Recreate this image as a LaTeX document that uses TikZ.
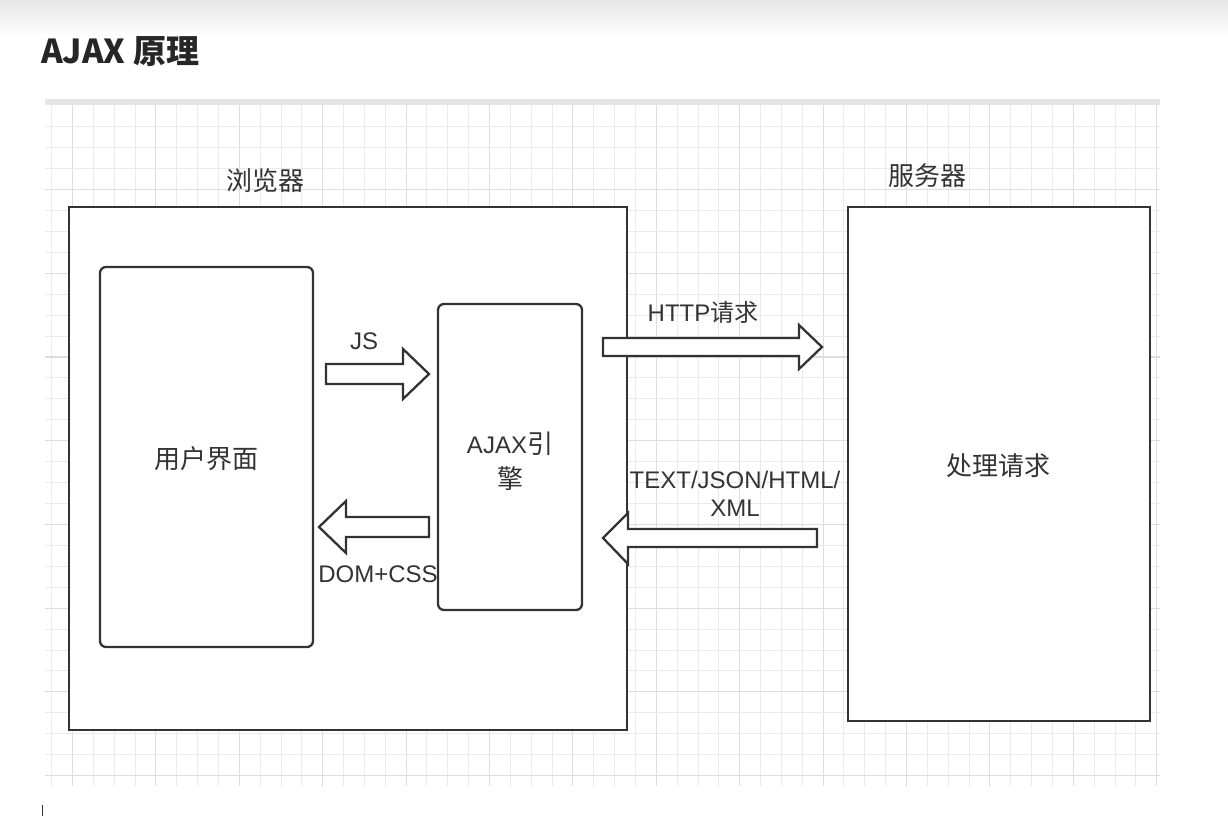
\documentclass[tikz,border=0pt]{standalone}
\usepackage{fontspec}
\setmainfont{Liberation Sans}
\newfontfamily\cjk{Noto Sans CJK SC}
\definecolor{ink}{HTML}{333333}
\definecolor{gridc}{HTML}{EAEAEA}
\definecolor{gridm}{HTML}{DDDDDD}
\tikzset{
  gridline/.style={draw=gridc, line width=0.9pt},
  gridmajor/.style={draw=gridm, line width=1.1pt},
  outerbox/.style={draw=ink, line width=2.3pt, fill=white, rectangle, inner sep=0pt},
  innerbox/.style={draw=ink, line width=2.3pt, fill=white, rectangle, rounded corners=6pt, inner sep=0pt},
  blockarrow/.style={draw=ink, line width=2.3pt, fill=white, line join=miter},
  lbl/.style={text=ink, font=\fontsize{24}{28}\selectfont, inner sep=0pt},
  cjklbl/.style={text=ink, font=\cjk\fontsize{26}{30}\selectfont, inner sep=0pt},
}
\begin{document}
\begin{tikzpicture}[x=1pt, y=-1pt]
\useasboundingbox (0,0) rectangle (1228,816);
% top header band
\shade[top color=black!10, bottom color=white] (0,0) rectangle (1228,36);
% title
\node[anchor=west, text=black!85, font=\cjk\bfseries\fontsize{33}{38}\selectfont, inner sep=0pt] (title) at (41,52) {AJAX 原理};
% grid
\fill[black!10] (45,99) rectangle (1160,105);
\foreach \i in {0,...,53} {
  \pgfmathtruncatemacro{\m}{mod(\i,4)}
  \ifnum\m=1
    \draw[gridmajor] ({51.6+20.85*\i},105) -- ({51.6+20.85*\i},786);
  \else
    \draw[gridline] ({51.6+20.85*\i},105) -- ({51.6+20.85*\i},786);
  \fi
}
\foreach \j in {1,...,32} {
  \pgfmathtruncatemacro{\m}{mod(\j,4)}
  \ifnum\m=0
    \draw[gridmajor] (45,{105.8+20.93*\j}) -- (1160,{105.8+20.93*\j});
  \else
    \draw[gridline] (45,{105.8+20.93*\j}) -- (1160,{105.8+20.93*\j});
  \fi
}
% browser
\node[outerbox, minimum width=558pt, minimum height=523pt] (browser) at (348,468.5) {};
\node[cjklbl] (browserlbl) at (265,181) {浏览器};
% server
\node[outerbox, minimum width=302pt, minimum height=514pt] (server) at (999,464) {};
\node[cjklbl] (serverlbl) at (927,176) {服务器};
\node[cjklbl] (proc) at (998,466) {处理请求};
% UI box
\node[innerbox, minimum width=213pt, minimum height=380pt] (ui) at (206.5,457) {};
\node[cjklbl] (uilbl) at (206,459) {用户界面};
% AJAX engine
\node[innerbox, minimum width=144pt, minimum height=306pt] (engine) at (510,457) {};
\node[lbl, align=center, font=\fontsize{24}{35}\selectfont] (enginelbl) at (510,461) {AJAX{\cjk\fontsize{26}{35}\selectfont 引}\\{\cjk\fontsize{26}{35}\selectfont 擎}};
% JS arrow (right)
\draw[blockarrow] (326,364) -- (403,364) -- (403,349) -- (429,374) -- (403,399) -- (403,384) -- (326,384) -- cycle;
\node[lbl] (js) at (364,341) {JS};
% DOM+CSS arrow (left)
\draw[blockarrow] (429,517) -- (346,517) -- (346,501) -- (319,527) -- (346,553) -- (346,537) -- (429,537) -- cycle;
\node[lbl] (dom) at (378,574) {DOM+CSS};
% HTTP request arrow (right)
\draw[blockarrow] (603,338) -- (799,338) -- (799,325) -- (822,347) -- (799,369) -- (799,356) -- (603,356) -- cycle;
\node[lbl] (http) at (703,312) {HTTP{\cjk\fontsize{24}{28}\selectfont 请求}};
% response arrow (left)
\draw[blockarrow] (817,529) -- (628,529) -- (628,513) -- (603,538) -- (628,564) -- (628,547) -- (817,547) -- cycle;
\node[lbl, align=center] (resp) at (735,494) {TEXT/JSON/HTML/\\XML};
% cursor mark bottom-left
\draw[black!80, line width=1pt] (42,805) -- (42,816);
\end{tikzpicture}
\end{document}
